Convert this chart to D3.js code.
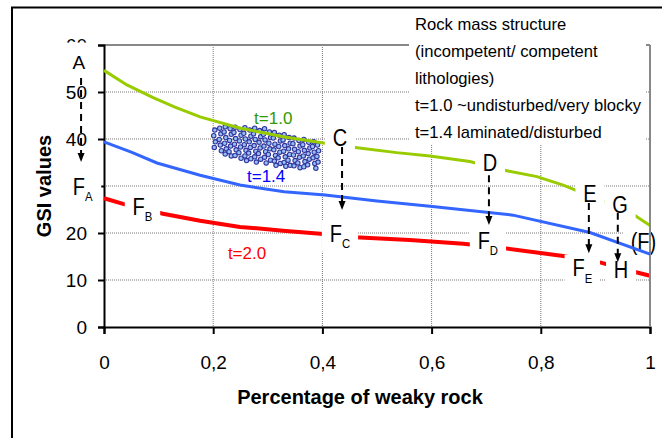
<!DOCTYPE html>
<html>
<head>
<meta charset="utf-8">
<script src="https://cdn.jsdelivr.net/npm/d3@7.9.0/dist/d3.min.js"></script>
<style>
  body { margin: 0; background: #fff; }
  svg { display: block; font-family: "Liberation Sans", Arial, sans-serif; }
</style>
</head>
<body>
<svg id="chart" width="662" height="438"></svg>
<script>
// values
const xTicks = [0, 0.2, 0.4, 0.6, 0.8, 1];
const xTickLabels = ['0', '0,2', '0,4', '0,6', '0,8', '1'];
const yTicks = [0, 10, 20, 30, 40, 50, 60];

// t=1.0 (green)
const t10 = [[0, 54.6], [0.042, 51.5], [0.09, 48.8], [0.13, 46.8], [0.176, 44.7], [0.25, 42.3],
  [0.328, 40.5], [0.405, 39.1], [0.46, 38.2], [0.536, 37.1], [0.597, 36.4], [0.67, 35.2],
  [0.731, 33.4], [0.793, 32], [0.841, 30.2], [0.866, 29], [0.914, 26.8], [0.969, 24], [1, 21.6]];
// t=1.4 (blue)
const t14 = [[0, 39.4], [0.05, 37.2], [0.097, 34.9], [0.176, 32.3], [0.249, 30.2], [0.33, 28.8],
  [0.405, 28.1], [0.5, 26.8], [0.597, 25.7], [0.749, 23.8], [0.89, 20.1], [1, 15.5]];
// t=2.0 (red)
const t20 = [[0, 27.4], [0.035, 26.2], [0.108, 24.1], [0.176, 22.6], [0.249, 21.3], [0.328, 20.5],
  [0.402, 19.8], [0.46, 19.1], [0.56, 18.5], [0.658, 17.7], [0.731, 16.8], [0.841, 15.1],
  [0.91, 13.7], [0.969, 11.8], [1, 10.9]];

// measured points (cloud)
const cloud = [
  [0.203, 41.9], [0.201, 40.7], [0.204, 39.4], [0.202, 38.2],
  [0.212, 42.3], [0.214, 41.1], [0.211, 39.9], [0.213, 38.7], [0.215, 37.5],
  [0.222, 42.6], [0.220, 41.5], [0.223, 40.3], [0.221, 39.1], [0.224, 37.9], [0.222, 36.8],
  [0.231, 42.2], [0.233, 41.0], [0.230, 39.7], [0.232, 38.5], [0.229, 37.3], [0.233, 36.4],
  [0.240, 42.5], [0.238, 41.4], [0.241, 40.1], [0.239, 38.9], [0.242, 37.7], [0.240, 36.5],
  [0.249, 42.0], [0.251, 40.8], [0.248, 39.6], [0.250, 38.3], [0.247, 37.1], [0.251, 35.9],
  [0.258, 42.4], [0.256, 41.2], [0.259, 40.0], [0.257, 38.8], [0.260, 37.6], [0.258, 36.4], [0.261, 35.4],
  [0.267, 41.9], [0.269, 40.6], [0.266, 39.4], [0.268, 38.2], [0.265, 37.0], [0.269, 35.8],
  [0.276, 42.3], [0.274, 41.1], [0.277, 39.9], [0.275, 38.6], [0.278, 37.4], [0.276, 36.2], [0.279, 35.1],
  [0.285, 41.8], [0.287, 40.5], [0.284, 39.3], [0.286, 38.1], [0.283, 36.9], [0.287, 35.7],
  [0.294, 42.2], [0.292, 41.0], [0.295, 39.8], [0.293, 38.5], [0.296, 37.3], [0.294, 36.1], [0.297, 34.9],
  [0.303, 41.5], [0.305, 40.3], [0.302, 39.1], [0.304, 37.9], [0.301, 36.7], [0.305, 35.5],
  [0.312, 41.4], [0.310, 40.2], [0.313, 38.9], [0.311, 37.7], [0.314, 36.5], [0.312, 35.3], [0.315, 34.4],
  [0.321, 40.8], [0.323, 39.6], [0.320, 38.4], [0.322, 37.2], [0.319, 36.0], [0.323, 34.8],
  [0.330, 40.9], [0.328, 39.8], [0.331, 38.6], [0.329, 37.4], [0.332, 36.2], [0.330, 35.0], [0.333, 34.2],
  [0.339, 40.3], [0.341, 39.1], [0.338, 37.9], [0.340, 36.7], [0.337, 35.5], [0.341, 34.4],
  [0.348, 40.2], [0.346, 39.0], [0.349, 37.8], [0.347, 36.6], [0.350, 35.4], [0.348, 34.3],
  [0.357, 39.7], [0.359, 38.5], [0.356, 37.3], [0.358, 36.1], [0.355, 34.9], [0.359, 33.9],
  [0.366, 39.9], [0.364, 38.8], [0.367, 37.6], [0.365, 36.4], [0.368, 35.2], [0.366, 34.1],
  [0.375, 39.3], [0.377, 38.1], [0.374, 36.9], [0.376, 35.7], [0.373, 34.5],
  [0.384, 39.4], [0.382, 38.4], [0.385, 37.2], [0.383, 36.0], [0.386, 34.8], [0.388, 33.8],
  [0.391, 38.7], [0.393, 37.5], [0.390, 36.3], [0.392, 35.1]
];

const seriesLabels = [
  { text: 't=1.0', x: 0.31, y: 44.5, color: '#339900' },
  { text: 't=1.4', x: 0.297, y: 32.1, color: '#0000ff' },
  { text: 't=2.0', x: 0.262, y: 15.7, color: '#ff0000' }
];

const pointLabels = [
  { main: 'A', x: -0.046, y: 56.4, small: true },
  { main: 'F', sub: 'A', x: -0.039, y: 29.9 },
  { main: 'F', sub: 'B', x: 0.0705, y: 25.6 },
  { main: 'C', x: 0.432, y: 40.2 },
  { main: 'F', sub: 'C', x: 0.432, y: 19.8 },
  { main: 'D', x: 0.707, y: 34.8 },
  { main: 'F', sub: 'D', x: 0.703, y: 18.4 },
  { main: 'E', x: 0.890, y: 28.4 },
  { main: 'F', sub: 'E', x: 0.876, y: 12.55 },
  { main: 'G', x: 0.945, y: 26.0 },
  { main: 'H', x: 0.947, y: 12.1 },
  { main: '(F)', x: 0.988, y: 18.1 }
];

const arrows = [
  { x: -0.042, from: 53, to: 35.1 },
  { x: 0.436, from: 38.3, to: 24.9 },
  { x: 0.705, from: 32.3, to: 21.7 },
  { x: 0.888, from: 26.4, to: 15.7 },
  { x: 0.941, from: 24.3, to: 13.8 }
];

const legendLines = [
  'Rock mass structure',
  '(incompetent/ competent',
  'lithologies)',
  't=1.0 ~undisturbed/very blocky',
  't=1.4 laminated/disturbed'
];

const svg = d3.select('#chart');
const x = d3.scaleLinear().domain([0, 1]).range([104, 650]);
const y = d3.scaleLinear().domain([0, 60]).range([327, 45]);

// outer chart frame (clipped by the picture)
svg.append('path')
  .attr('d', 'M12,438 L12,7.5 L662,7.5')
  .attr('fill', 'none').attr('stroke', '#000').attr('stroke-width', 2);

// grid
svg.append('g').selectAll('line').data(yTicks.slice(1, -1)).join('line')
  .attr('x1', x(0)).attr('x2', x(1))
  .attr('y1', d => y(d)).attr('y2', d => y(d))
  .attr('stroke', '#777').attr('stroke-width', 1).attr('stroke-dasharray', '1,1');
svg.append('g').selectAll('line').data(xTicks.slice(1, -1)).join('line')
  .attr('x1', d => x(d)).attr('x2', d => x(d))
  .attr('y1', y(60)).attr('y2', y(0))
  .attr('stroke', '#777').attr('stroke-width', 1).attr('stroke-dasharray', '1,1');
// plot area top border
svg.append('line')
  .attr('x1', x(0)).attr('x2', x(1)).attr('y1', y(60)).attr('y2', y(60))
  .attr('stroke', '#888').attr('stroke-width', 2);

// axes
const yAxis = svg.append('g').attr('transform', `translate(${x(0)},0)`)
  .call(d3.axisLeft(y).tickValues(yTicks).tickSize(6).tickPadding(11));
const xAxis = svg.append('g').attr('transform', `translate(0,${y(0)})`)
  .call(d3.axisBottom(x).tickValues(xTicks).tickSize(7).tickPadding(22)
    .tickFormat((d, i) => xTickLabels[i]));
[yAxis, xAxis].forEach(a => {
  a.select('.domain').attr('stroke', '#000').attr('stroke-width', 2);
  a.selectAll('.tick line').attr('stroke', '#000').attr('stroke-width', 2);
  a.selectAll('.tick text').attr('font-size', 19).attr('fill', '#000')
    .attr('font-family', '"Liberation Sans", Arial, sans-serif');
});
yAxis.selectAll('.tick text').attr('dy', '0.35em');

// axis titles
svg.append('text')
  .attr('transform', `translate(51,${(y(0) + y(60)) / 2}) rotate(-90)`)
  .attr('text-anchor', 'middle').attr('font-size', 20).attr('font-weight', 'bold')
  .text('GSI values');
svg.append('text')
  .attr('x', 360).attr('y', 404)
  .attr('text-anchor', 'middle').attr('font-size', 20).attr('font-weight', 'bold')
  .text('Percentage of weaky rock');

// point cloud
svg.append('g').selectAll('circle').data(cloud).join('circle')
  .attr('cx', d => x(d[0])).attr('cy', d => y(d[1])).attr('r', 2.2)
  .attr('fill', '#93c0f7').attr('stroke', '#33339a').attr('stroke-width', 1.1);

const line = d3.line().x(d => x(d[0])).y(d => y(d[1]));
svg.append('path').datum(t10).attr('d', line)
  .attr('fill', 'none').attr('stroke', '#99cc00').attr('stroke-width', 3);
svg.append('path').datum(t20).attr('d', line)
  .attr('fill', 'none').attr('stroke', '#ff0000').attr('stroke-width', 4);

// legend box
svg.append('rect').attr('x', 409).attr('y', 9).attr('width', 237).attr('height', 136).attr('fill', '#fff');
svg.append('g').selectAll('text').data(legendLines).join('text')
  .attr('x', 415).attr('y', (d, i) => 30 + i * 27)
  .attr('font-size', 16.6).attr('fill', '#000')
  .text(d => d);

// point labels with white boxes (letters are a bit narrow in the original)
const lblG = svg.append('g');
pointLabels.forEach(p => {
  const g = lblG.append('g')
    .attr('transform', `translate(${x(p.x)},${y(p.y)}) scale(${p.small ? 1 : 0.87},1)`);
  const t = g.append('text')
    .attr('dy', '0.35em')
    .attr('text-anchor', 'middle').attr('font-size', p.small ? 19 : 23).attr('fill', '#000');
  t.append('tspan').text(p.main);
  if (p.sub) t.append('tspan').attr('font-size', 13).attr('dy', '0.5em').text(p.sub);
  const b = t.node().getBBox();
  const padTop = p.small ? 9 : 0;
  g.insert('rect', 'text')
    .attr('x', b.x - 9).attr('y', b.y - padTop).attr('width', b.width + 18)
    .attr('height', b.height + padTop)
    .attr('fill', '#fff');
});

// plot area right border
svg.append('line')
  .attr('x1', x(1)).attr('x2', x(1)).attr('y1', y(60)).attr('y2', y(0))
  .attr('stroke', '#888').attr('stroke-width', 2);

svg.append('path').datum(t14).attr('d', line)
  .attr('fill', 'none').attr('stroke', '#3366ff').attr('stroke-width', 3);

svg.append('g').selectAll('text').data(seriesLabels).join('text')
  .attr('x', d => x(d.x)).attr('y', d => y(d.y)).attr('dy', '0.35em')
  .attr('text-anchor', 'middle').attr('font-size', 17)
  .attr('fill', d => d.color).text(d => d.text);

// dashed arrows
const arrG = svg.append('g');
arrows.forEach(a => {
  const ax = x(a.x), y1 = y(a.from), y2 = y(a.to);
  arrG.append('line')
    .attr('x1', ax).attr('x2', ax).attr('y1', y1).attr('y2', y2 - 7)
    .attr('stroke', '#000').attr('stroke-width', 2).attr('stroke-dasharray', '7,5');
  arrG.append('path')
    .attr('d', `M${ax - 3.5},${y2 - 9} L${ax + 3.5},${y2 - 9} L${ax},${y2} Z`)
    .attr('fill', '#000');
});
</script>
</body>
</html>
